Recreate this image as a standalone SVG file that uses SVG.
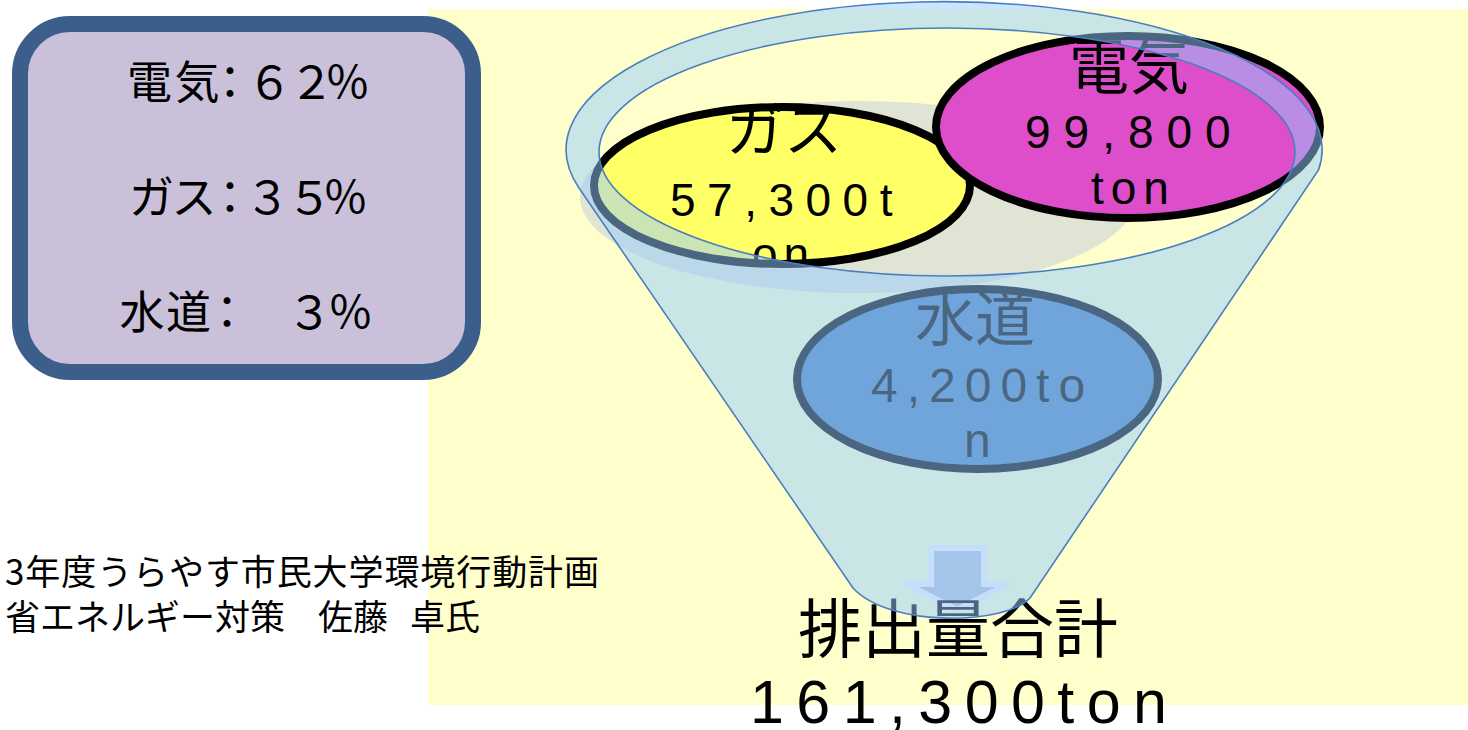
<svg xmlns="http://www.w3.org/2000/svg" width="1468" height="730" viewBox="0 0 1468 730">
<defs>
<style>
.jp{font-family:"Noto Sans CJK JP","Noto Sans CJK SC",sans-serif;fill:#000}
.lat{font-family:"Liberation Sans",Arial,sans-serif;fill:#000}
.ell{stroke:#000;stroke-width:8}
</style>
<clipPath id="gasClip"><rect x="585" y="100" width="395" height="164"/></clipPath>
</defs>
<rect id="bg" x="428" y="9" width="1040" height="696" fill="#FFFFCC"/>
<g id="legend">
<rect x="20" y="24" width="453" height="348" rx="50" ry="50" fill="#CBC0DA" stroke="#3B5E8A" stroke-width="16"/>
<text class="jp" font-size="45" y="99" x="127 174.5 207.5 247 289 325">電気：６２％</text>
<text class="jp" font-size="45" y="214" x="129 171.5 207.5 245 287 323">ガス：３５％</text>
<text class="jp" font-size="45" y="329" x="119.5 166 204.5 245 287 328">水道：　３％</text>
</g>
<ellipse id="shadow" cx="858" cy="197" rx="278" ry="96" fill="#DFE4D5"/>
<g id="gas">
<ellipse class="ell" cx="782" cy="185.5" rx="188" ry="78.5" fill="#FFFF66"/>
<g clip-path="url(#gasClip)">
<text class="jp" font-size="58" x="726" y="151">ガス</text>
<text class="lat" font-size="46" letter-spacing="11.5" x="670" y="216">57,300t</text>
<text class="lat" font-size="46" letter-spacing="6" x="752" y="270">on</text>
</g>
</g>
<g id="electric">
<ellipse class="ell" cx="1128" cy="127" rx="192" ry="91" fill="#DE4ECB"/>
<text class="jp" font-size="60" x="1069" y="89">電気</text>
<text class="lat" font-size="46" letter-spacing="13" x="1025" y="148">99,800</text>
<text class="lat" font-size="46" letter-spacing="7" x="1091" y="204">ton</text>
</g>
<g id="water">
<ellipse class="ell" cx="977.5" cy="379" rx="180.5" ry="90" fill="#4A7EB7"/>
<text class="jp" font-size="60" x="915" y="341">水道</text>
<text class="lat" font-size="48" letter-spacing="9" x="871" y="402">4,200to</text>
<text class="lat" font-size="48" x="964" y="457">n</text>
</g>
<g id="connectors">
<polygon points="931,548 984,548 984,584 1008,584 957,610 906,584 931,584" fill="#B3BDD5" stroke="#F5F1F3" stroke-width="6" stroke-linejoin="miter"/>
</g>
<g id="total">
<text class="jp" font-size="64" x="798" y="652">排出量合計</text>
<text class="lat" font-size="61" letter-spacing="12.4" x="750" y="723">161,300ton</text>
</g>
<g id="funnel">
<path fill="#95CBFF" fill-opacity="0.5" fill-rule="evenodd" stroke="#4A7EBF" stroke-width="1.6" d="M579,188 A378,148 0 1 1 1318.5,170 L1030,598 C1005,625 890,628 853,588 Z M599,152 A348,124 0 1 0 1295,152 A348,124 0 1 0 599,152 Z"/>
</g>
<g id="credit">
<text class="jp" font-size="35" x="5" y="585" textLength="594">3年度うらやす市民大学環境行動計画</text>
<text class="jp" font-size="35" y="630"><tspan x="5">省エネルギー対策</tspan><tspan x="318">佐藤</tspan><tspan x="410">卓氏</tspan></text>
</g>
</svg>
